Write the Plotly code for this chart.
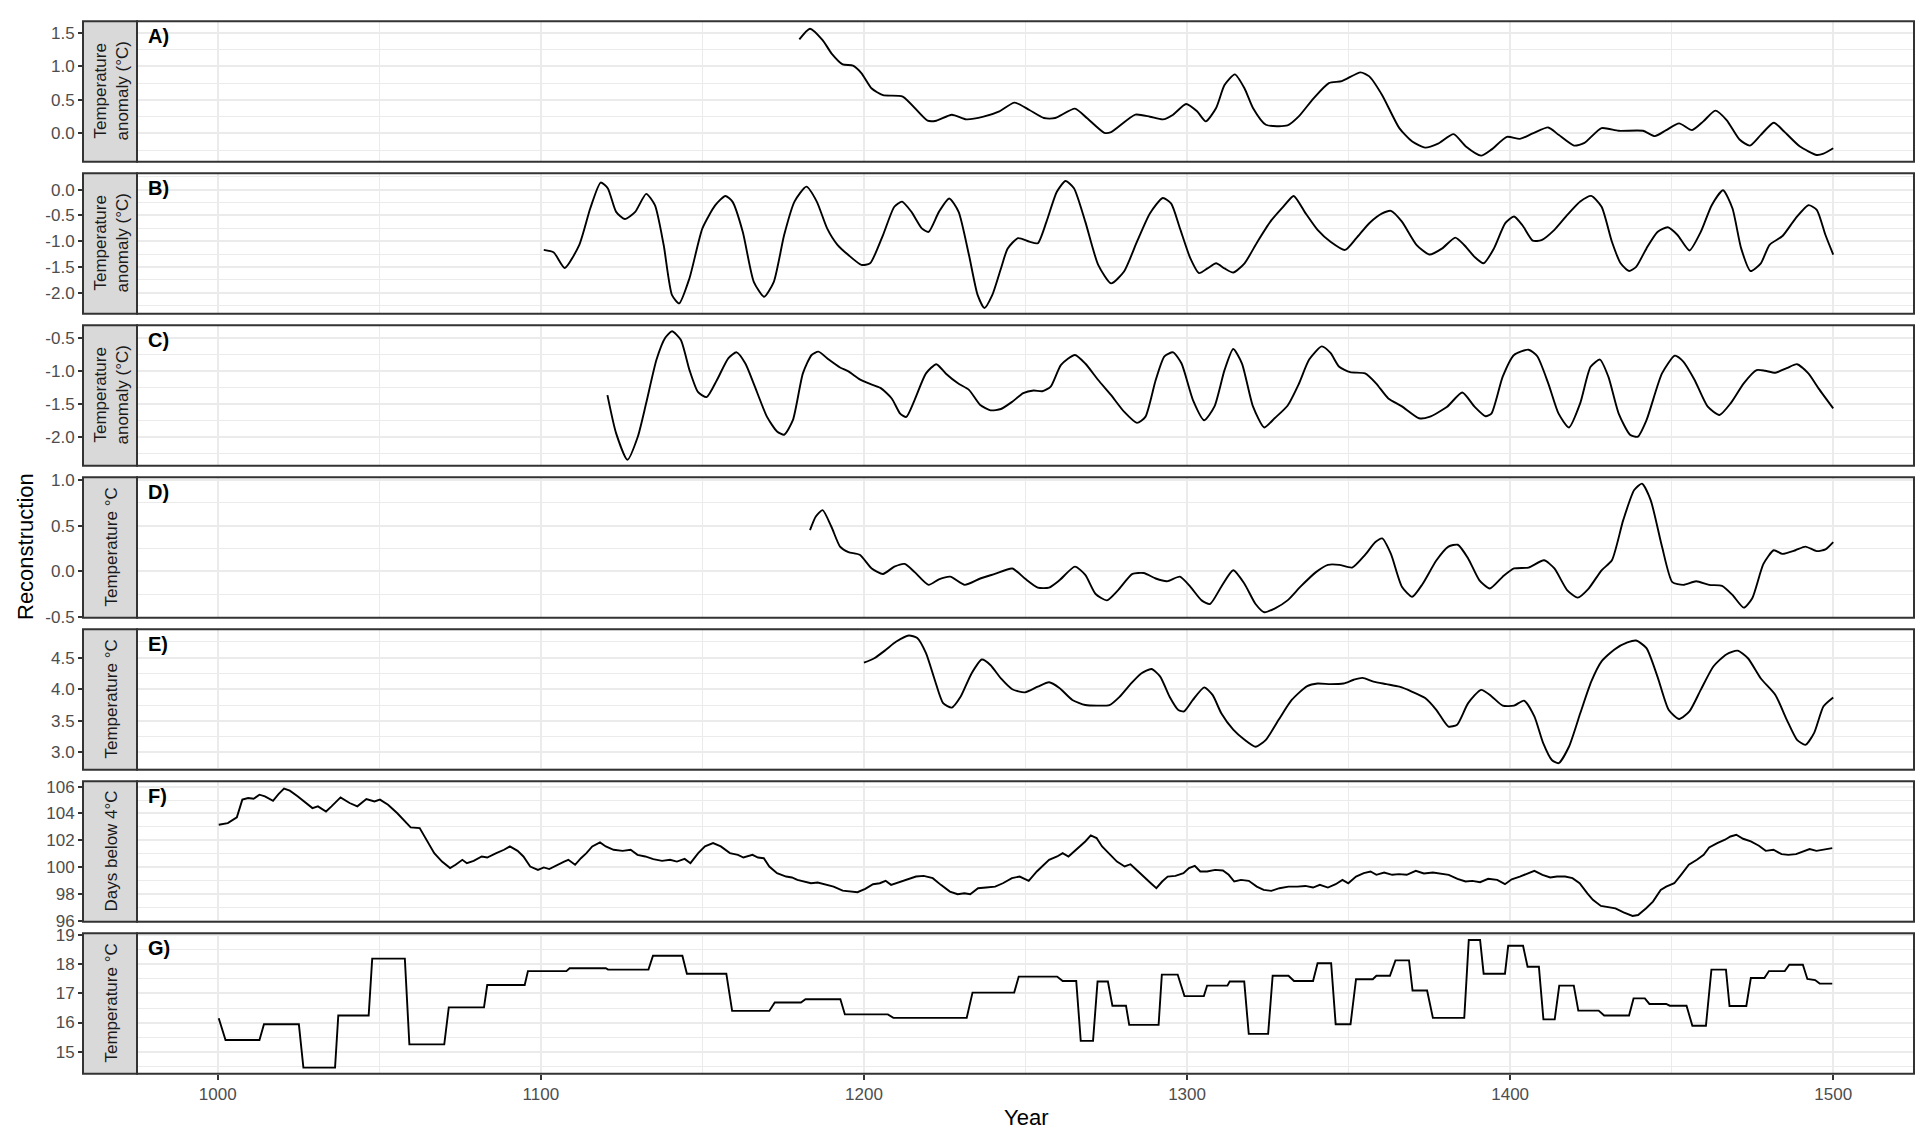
import plotly.graph_objects as go

# ---- data (year, value) ----
a_year = [1180, 1183.3, 1187.2, 1190, 1193.4, 1196.6, 1199.2, 1202.4, 1205.9, 1212, 1219.7, 1222.4, 1227.2, 1231.7,
          1237, 1241.9, 1246.6, 1251.2, 1255.7, 1259.2, 1265.3, 1269, 1274.4, 1276.5, 1284, 1288.5, 1292.5, 1295.7,
          1299.7, 1303.1, 1305.8, 1309, 1311.6, 1314.8, 1317.8, 1320.4, 1324.4, 1331.1, 1334.5, 1339.1, 1343.9,
          1347.9, 1353.7, 1356.4, 1360.4, 1365.7, 1369.7, 1373.7, 1377.7, 1382.5, 1386.2, 1391, 1394.2, 1399, 1403,
          1407, 1411.8, 1415, 1419.8, 1423, 1428.3, 1433.6, 1441.1, 1444.8, 1448.3, 1452.3, 1456.3, 1459.8, 1463.5,
          1467, 1471, 1474.2, 1477.6, 1481.6, 1484.8, 1489.6, 1494.9, 1497, 1500]
a_val = [1.40, 1.56, 1.39, 1.19, 1.03, 1.01, 0.90, 0.67, 0.57, 0.55, 0.19, 0.19, 0.28, 0.21,
         0.25, 0.33, 0.46, 0.35, 0.23, 0.23, 0.37, 0.23, 0.01, 0.02, 0.28, 0.25, 0.21, 0.28,
         0.44, 0.33, 0.18, 0.38, 0.72, 0.88, 0.67, 0.38, 0.13, 0.12, 0.25, 0.52, 0.75,
         0.78, 0.91, 0.85, 0.57, 0.08, -0.12, -0.21, -0.15, -0.01, -0.19, -0.33, -0.24, -0.05, -0.08,
         0.00, 0.09, -0.02, -0.18, -0.14, 0.08, 0.04, 0.04, -0.04, 0.05, 0.15, 0.05, 0.18, 0.34,
         0.20, -0.09, -0.18, -0.02, 0.16, 0.03, -0.19, -0.32, -0.30, -0.22]

b_year = [1100.9, 1104, 1107.4, 1111.9, 1115.3, 1118.5, 1120.7, 1123.3, 1126, 1129.2, 1132.6, 1135.3, 1138,
          1140.6, 1142.8, 1146, 1150, 1154, 1157.1, 1159.3, 1162.5, 1165.9, 1169.1, 1172.1, 1175.3, 1178.5,
          1182.2, 1185.4, 1188.6, 1191.8, 1195.2, 1199.2, 1201.9, 1205.9, 1209.4, 1211.8, 1214.7, 1217.9, 1220,
          1223.2, 1226.4, 1229.3, 1232.5, 1235.2, 1237.3, 1239.7, 1242.4, 1244.5, 1247.7, 1251.2, 1253.8,
          1256.5, 1259.7, 1262.4, 1265, 1268.5, 1272.5, 1276.5, 1280.5, 1284.5, 1288.5, 1292.5, 1295.1, 1297.8,
          1301, 1303.7, 1306.3, 1309, 1311.6, 1314.3, 1317.8, 1321.8, 1325.8, 1329.8, 1333, 1336.4, 1340.4,
          1344.4, 1348.9, 1352.4, 1356.4, 1360.4, 1363.1, 1366.5, 1371, 1375, 1379, 1383, 1385.7, 1388.9,
          1391.8, 1395, 1398.5, 1401.2, 1403.8, 1407, 1409.7, 1413.7, 1417.7, 1421.7, 1425.1, 1428.3, 1431.5,
          1434.2, 1436.8, 1439, 1442.2, 1445.6, 1448.8, 1451.8, 1455.5, 1459, 1462.4, 1465.9, 1468.8, 1471.5,
          1474.4, 1477.6, 1480.3, 1484.3, 1488.3, 1492.3, 1494.9, 1497.6, 1500]
b_val = [-1.17, -1.22, -1.52, -1.07, -0.36, 0.14, 0.03, -0.43, -0.57, -0.43, -0.08, -0.30, -1.07,
         -2.05, -2.21, -1.72, -0.75, -0.30, -0.12, -0.23, -0.82, -1.79, -2.08, -1.79, -0.88, -0.23,
         0.06, -0.23, -0.75, -1.07, -1.27, -1.46, -1.43, -0.88, -0.33, -0.23, -0.43, -0.75, -0.82,
         -0.43, -0.17, -0.43, -1.27, -2.05, -2.30, -2.05, -1.53, -1.14, -0.94, -1.01, -1.04,
         -0.62, -0.04, 0.17, 0.03, -0.62, -1.46, -1.82, -1.59, -1.01, -0.46, -0.16, -0.27, -0.75,
         -1.33, -1.62, -1.53, -1.43, -1.53, -1.61, -1.43, -1.01, -0.62, -0.33, -0.12, -0.43, -0.78,
         -1.01, -1.17, -0.94, -0.65, -0.46, -0.41, -0.62, -1.07, -1.26, -1.14, -0.93, -1.07, -1.30,
         -1.43, -1.14, -0.65, -0.52, -0.69, -0.99, -0.98, -0.78, -0.49, -0.23, -0.12, -0.33, -1.01,
         -1.43, -1.58, -1.50, -1.14, -0.82, -0.73, -0.88, -1.18, -0.82, -0.30, -0.01, -0.36, -1.14,
         -1.58, -1.43, -1.07, -0.90, -0.56, -0.30, -0.39, -0.88, -1.26]

c_year = [1120.6, 1123.3, 1126.8, 1130, 1132.6, 1135.8, 1138.5, 1140.6, 1143.3, 1146, 1148.6, 1151.3, 1154.5,
          1158, 1160.6, 1163.3, 1166, 1170, 1173.1, 1175.3, 1178, 1181.1, 1183.8, 1185.9, 1189.1, 1192.6,
          1195.2, 1198.7, 1201.9, 1205.1, 1208.6, 1211.2, 1213.1, 1215.7, 1219.2, 1222.4, 1225.3, 1229.1,
          1232.5, 1236, 1239.2, 1242.4, 1245.9, 1249.3, 1252.5, 1255.2, 1257.8, 1261, 1265.3, 1268.5, 1272.5,
          1276.5, 1280.5, 1284.5, 1287.1, 1290.3, 1293, 1295.7, 1298.3, 1301.8, 1305.3, 1308.5, 1311.6,
          1314.3, 1317, 1320.4, 1323.9, 1327.1, 1331.1, 1334.5, 1337.8, 1341.7, 1344.4, 1347.1, 1350.5,
          1355.1, 1358.5, 1362.3, 1366.5, 1371.8, 1375, 1380.4, 1385.2, 1388.9, 1392.4, 1394.2, 1397.7,
          1401.2, 1405.7, 1408.4, 1411.8, 1415, 1418.2, 1421.7, 1424.9, 1427.8, 1430.4, 1433.6, 1437.1,
          1439.5, 1442.2, 1447, 1451, 1453.6, 1457.1, 1461.1, 1464.8, 1468.3, 1472.3, 1476.3, 1478.9,
          1482.1, 1485.6, 1488.8, 1492.3, 1495.5, 1500]
c_val = [-1.37, -1.95, -2.35, -2.00, -1.49, -0.83, -0.50, -0.40, -0.53, -0.99, -1.32, -1.40, -1.14,
         -0.81, -0.72, -0.89, -1.21, -1.70, -1.92, -1.97, -1.75, -1.04, -0.76, -0.71, -0.83, -0.95,
         -1.01, -1.13, -1.20, -1.26, -1.42, -1.65, -1.70, -1.44, -1.04, -0.90, -1.04, -1.19,
         -1.29, -1.52, -1.60, -1.58, -1.47, -1.34, -1.30, -1.31, -1.24, -0.91, -0.76, -0.89, -1.14,
         -1.37, -1.62, -1.79, -1.70, -1.14, -0.78, -0.72, -0.89, -1.44, -1.75, -1.54, -0.99,
         -0.67, -0.89, -1.54, -1.86, -1.72, -1.53, -1.21, -0.83, -0.63, -0.73, -0.94, -1.02,
         -1.04, -1.19, -1.42, -1.54, -1.72, -1.70, -1.55, -1.33, -1.54, -1.69, -1.65, -1.09,
         -0.76, -0.68, -0.78, -1.19, -1.65, -1.86, -1.49, -0.94, -0.83, -1.09, -1.65, -1.97,
         -2.00, -1.75, -1.04, -0.77, -0.86, -1.14, -1.54, -1.67, -1.49, -1.19, -0.99, -1.00,
         -1.03, -0.96, -0.90, -1.04, -1.27, -1.57]

d_year = [1183.3, 1185.1, 1187.2, 1189.9, 1192.6, 1195.2, 1198.7, 1202.4, 1205.9, 1209.4, 1212.6, 1215.7,
          1220, 1223.2, 1226.7, 1231.2, 1236, 1240.5, 1245.9, 1249.8, 1253.8, 1257.3, 1260.5, 1265.3, 1268.5,
          1271.7, 1275.2, 1278.6, 1283.1, 1286.6, 1290.3, 1293.8, 1297.8, 1301, 1304.5, 1307.1, 1310.6,
          1314.3, 1317.8, 1321.2, 1323.9, 1327.1, 1331.1, 1335.1, 1339.9, 1343.6, 1347.1, 1351.1, 1355.1,
          1358.3, 1360.4, 1363.1, 1366.5, 1369.7, 1372.9, 1377.2, 1380.9, 1383.8, 1387, 1390.5, 1393.7,
          1397.7, 1401.2, 1405.7, 1410.5, 1413.7, 1417.7, 1420.9, 1424.3, 1428.3, 1431.5, 1435, 1438.4,
          1440.8, 1443.5, 1447, 1450.2, 1453.6, 1457.6, 1461.6, 1465.6, 1468.8, 1472.3, 1474.9, 1478.4,
          1481.6, 1484.3, 1488.3, 1491.4, 1494.9, 1497.6, 1500]
d_val = [0.45, 0.60, 0.67, 0.49, 0.27, 0.21, 0.18, 0.03, -0.03, 0.05, 0.08, -0.01,
         -0.15, -0.09, -0.06, -0.15, -0.08, -0.03, 0.03, -0.08, -0.18, -0.18, -0.10, 0.05, -0.04,
         -0.25, -0.32, -0.21, -0.03, -0.02, -0.08, -0.11, -0.06, -0.17, -0.32, -0.36, -0.17,
         0.01, -0.14, -0.36, -0.45, -0.41, -0.32, -0.17, -0.01, 0.07, 0.07, 0.04, 0.18,
         0.32, 0.36, 0.19, -0.17, -0.28, -0.14, 0.12, 0.27, 0.29, 0.14, -0.10, -0.19,
         -0.06, 0.03, 0.04, 0.12, 0.03, -0.21, -0.29, -0.19, 0.01, 0.12, 0.56, 0.89,
         0.96, 0.78, 0.27, -0.12, -0.15, -0.11, -0.15, -0.16, -0.26, -0.40, -0.30, 0.08,
         0.23, 0.19, 0.23, 0.27, 0.22, 0.24, 0.32]

e_year = [1200, 1203.2, 1206.7, 1209.9, 1213.9, 1216.5, 1219.2, 1221.9, 1224.5, 1227.2, 1229.9, 1233.3,
          1236.5, 1239.2, 1242.4, 1245.9, 1249.8, 1253.8, 1257.3, 1260.5, 1264.5, 1268.5, 1272.5, 1276,
          1279.1, 1282.3, 1285.8, 1289, 1291.7, 1294.6, 1297.3, 1299.1, 1301.8, 1305.3, 1307.9, 1310.6,
          1314.3, 1317.8, 1321.2, 1324.4, 1328.4, 1332.4, 1337.2, 1340.4, 1344.4, 1348.4, 1351.6, 1354.3,
          1357.7, 1361.7, 1365.7, 1369.7, 1373.7, 1377.2, 1380.9, 1383.6, 1387, 1391, 1394.2, 1397.7,
          1401.2, 1404.3, 1407.5, 1410.2, 1412.9, 1415, 1418.2, 1421.7, 1425.1, 1428.3, 1432.3, 1436.3,
          1439, 1442.2, 1445.6, 1449.1, 1452.3, 1455.5, 1459, 1462.9, 1466.9, 1470.4, 1473.6, 1477.6,
          1482.1, 1485.6, 1488.8, 1491.4, 1494.1, 1497, 1500]
e_val = [4.42, 4.49, 4.62, 4.75, 4.85, 4.81, 4.57, 4.15, 3.78, 3.71, 3.88, 4.25,
         4.47, 4.38, 4.17, 4.00, 3.95, 4.04, 4.11, 4.02, 3.83, 3.75, 3.74, 3.75,
         3.88, 4.07, 4.25, 4.32, 4.20, 3.88, 3.67, 3.65, 3.83, 4.03, 3.91, 3.62,
         3.36, 3.20, 3.09, 3.20, 3.52, 3.83, 4.05, 4.09, 4.08, 4.09, 4.15, 4.18,
         4.12, 4.08, 4.04, 3.96, 3.86, 3.67, 3.41, 3.44, 3.78, 3.99, 3.89, 3.74,
         3.74, 3.82, 3.57, 3.15, 2.88, 2.83, 3.09, 3.62, 4.12, 4.44, 4.63, 4.74,
         4.77, 4.65, 4.20, 3.67, 3.53, 3.65, 3.99, 4.36, 4.55, 4.61, 4.49, 4.17,
         3.91, 3.52, 3.20, 3.12, 3.31, 3.73, 3.87]

f_year = [1000.3, 1003.1, 1005.9, 1007.6, 1009.4, 1011.1, 1012.9, 1014.6, 1017.1, 1018.8, 1020.5, 1022.3,
          1024.7, 1027.5, 1029.3, 1031, 1033.5, 1035.2, 1038, 1040.8, 1043.2, 1046, 1048.5, 1050.2, 1052.7,
          1055.5, 1057.9, 1059.7, 1062.5, 1064.9, 1067, 1069.4, 1071.9, 1073.6, 1075.7, 1077.1, 1079.2,
          1081.7, 1083.4, 1086.2, 1088.6, 1090.4, 1092.8, 1094.6, 1096.7, 1099.1, 1100.9, 1102.6, 1105.1,
          1107.2, 1108.5, 1110.6, 1112.4, 1114.1, 1115.9, 1118.3, 1120.1, 1122.5, 1125.3, 1127.8, 1129.9,
          1132.3, 1134.8, 1137.5, 1140, 1142.1, 1144.5, 1146.3, 1148.7, 1150.8, 1153.3, 1155.7, 1158.5,
          1161, 1162.7, 1165.5, 1167.2, 1169, 1170.7, 1173.1, 1175.9, 1177.7, 1179.4, 1181.9, 1183.6,
          1185.7, 1188.2, 1190.6, 1193.4, 1195.9, 1198, 1200.4, 1202.8, 1204.9, 1206.7, 1208.4, 1210.9,
          1213.7, 1216.1, 1218.5, 1221.3, 1223.8, 1226.6, 1229, 1231.1, 1232.9, 1235.3, 1237.8, 1240.6,
          1243, 1245.8, 1248.2, 1251, 1253.5, 1255.6, 1257.3, 1259.8, 1261.5, 1263.3, 1265, 1266.7, 1268.5,
          1270.2, 1272, 1273.7, 1276.2, 1278.3, 1280.7, 1282.5, 1284.9, 1287, 1288.8, 1290.5, 1292.3, 1294,
          1296.4, 1298.9, 1300.6, 1302.4, 1304.1, 1306.2, 1308.7, 1311.1, 1312.9, 1314.6, 1316.7, 1319.1,
          1321.6, 1323.7, 1326.1, 1328.6, 1331.4, 1334.1, 1336.6, 1339, 1341.1, 1343.6, 1346, 1348.1,
          1349.9, 1352.3, 1354.7, 1356.8, 1358.6, 1361, 1363.5, 1365.6, 1368, 1370.8, 1373.3, 1376.1,
          1378.5, 1381, 1383.7, 1386.2, 1388.3, 1390.7, 1393.2, 1396, 1398.4, 1400.5, 1403, 1405.4, 1407.5,
          1410, 1412.4, 1414.5, 1417, 1419.3, 1421.5, 1423.9, 1425.6, 1428.1, 1430.2, 1432.6, 1435.1,
          1437.9, 1439.6, 1442.1, 1444.2, 1446.6, 1448.3, 1450.8, 1452.9, 1455.3, 1457.8, 1459.9, 1461.6,
          1464.1, 1466.5, 1468.2, 1470, 1472.1, 1474.5, 1477, 1479.1, 1481.5, 1484, 1486.1, 1488.5, 1490.3,
          1492.7, 1494.8, 1497.2, 1499.7]
f_val = [103.16, 103.28, 103.71, 105.03, 105.15, 105.10, 105.40, 105.28, 104.95, 105.45, 105.85, 105.70,
         105.28, 104.78, 104.40, 104.53, 104.15, 104.53, 105.20, 104.78, 104.53, 105.08, 104.90, 105.03, 104.65,
         104.03, 103.41, 102.96, 102.91, 101.91, 101.04, 100.41, 99.92, 100.17, 100.54, 100.29, 100.46,
         100.79, 100.71, 101.04, 101.29, 101.54, 101.21, 100.79, 100.04, 99.79, 99.97, 99.85, 100.17,
         100.41, 100.54, 100.17, 100.66, 101.04, 101.54, 101.84, 101.54, 101.29, 101.21, 101.29, 100.91,
         100.79, 100.59, 100.46, 100.54, 100.41, 100.61, 100.29, 101.04, 101.54, 101.79, 101.54, 101.04,
         100.91, 100.71, 100.91, 100.71, 100.66, 100.04, 99.54, 99.29, 99.22, 99.04, 98.92, 98.79,
         98.84, 98.67, 98.54, 98.24, 98.17, 98.12, 98.37, 98.72, 98.79, 98.97, 98.67, 98.87,
         99.04, 99.29, 99.34, 99.17, 98.67, 98.17, 97.97, 98.04, 97.97, 98.42, 98.47, 98.54,
         98.79, 99.17, 99.29, 98.97, 99.67, 100.17, 100.54, 100.79, 101.04, 100.79, 101.16, 101.54, 101.91,
         102.36, 102.16, 101.54, 100.91, 100.41, 100.04, 100.21, 99.67, 99.17, 98.79, 98.42, 98.92, 99.29,
         99.34, 99.54, 99.92, 100.09, 99.67, 99.67, 99.79, 99.74, 99.42, 98.92, 99.04, 98.97,
         98.54, 98.29, 98.22, 98.42, 98.54, 98.54, 98.59, 98.47, 98.67, 98.47, 98.72, 99.04,
         98.79, 99.29, 99.54, 99.67, 99.42, 99.59, 99.42, 99.47, 99.42, 99.72, 99.52, 99.59,
         99.52, 99.42, 99.12, 98.92, 98.97, 98.87, 99.12, 99.04, 98.72, 99.09, 99.29, 99.54, 99.72,
         99.42, 99.22, 99.29, 99.29, 99.17, 98.79, 98.04, 97.55, 97.10, 97.00, 96.92, 96.62,
         96.35, 96.42, 96.92, 97.42, 98.29, 98.54, 98.79, 99.42, 100.17, 100.54, 100.91, 101.46,
         101.79, 102.04, 102.28, 102.41, 102.11, 101.91, 101.59, 101.21, 101.29, 100.96, 100.91, 100.96, 101.11,
         101.34, 101.21, 101.29, 101.41]

g_year = [1000.3, 1002.4, 1012.9, 1014.3, 1025.1, 1026.5, 1036.3, 1037.3, 1046.7, 1047.8, 1057.9, 1059.3,
          1070.1, 1071.5, 1082.4, 1083.4, 1095, 1096, 1107.9, 1108.9, 1120.1, 1120.8, 1133.3, 1134.7, 1143.8,
          1145.2, 1157.4, 1159.2, 1170.7, 1172.4, 1180.5, 1181.9, 1192.7, 1194.1, 1207.4, 1209.1, 1231.8,
          1233.6, 1246.5, 1247.9, 1259.8, 1261.5, 1265.7, 1267.1, 1270.9, 1272.3, 1275.5, 1276.9, 1281.1,
          1282.1, 1291.2, 1292.2, 1297.1, 1299.2, 1305.2, 1306.2, 1312.5, 1313.2, 1317.7, 1319.1, 1325.1,
          1326.5, 1331.4, 1333.1, 1339, 1340.4, 1344.6, 1346, 1350.6, 1352.3, 1357.5, 1358.6, 1362.8, 1364.5,
          1368.7, 1369.8, 1374.3, 1376.1, 1385.8, 1387.2, 1390.7, 1391.8, 1398.4, 1399.4, 1404, 1405.4,
          1408.9, 1410.3, 1413.8, 1415.2, 1419.7, 1421.1, 1427.4, 1429.1, 1436.8, 1438.2, 1441.7, 1443.1,
          1448.3, 1449.4, 1454.6, 1456.4, 1460.6, 1462.3, 1466.8, 1467.9, 1473.1, 1474.5, 1478.7, 1480.1,
          1485, 1486.4, 1490.6, 1492, 1494.4, 1495.8, 1499.7]
g_val = [16.15, 15.40, 15.40, 15.94, 15.94, 14.45, 14.45, 16.24, 16.24, 18.20, 18.20, 15.25,
         15.25, 16.52, 16.52, 17.29, 17.29, 17.77, 17.77, 17.87, 17.87, 17.82, 17.82, 18.30, 18.30,
         17.68, 17.68, 16.40, 16.40, 16.69, 16.69, 16.80, 16.80, 16.28, 16.28, 16.16, 16.16,
         17.03, 17.03, 17.58, 17.58, 17.43, 17.43, 15.37, 15.37, 17.41, 17.41, 16.58, 16.58,
         15.92, 15.92, 17.65, 17.65, 16.91, 16.91, 17.27, 17.27, 17.41, 17.41, 15.61, 15.61,
         17.61, 17.61, 17.43, 17.43, 18.04, 18.04, 15.94, 15.94, 17.49, 17.49, 17.61, 17.61, 18.14,
         18.14, 17.10, 17.10, 16.16, 16.16, 18.84, 18.84, 17.68, 17.68, 18.64, 18.64, 17.92,
         17.92, 16.11, 16.11, 17.27, 17.27, 16.41, 16.41, 16.24, 16.24, 16.83, 16.83, 16.64,
         16.64, 16.58, 16.58, 15.89, 15.89, 17.82, 17.82, 16.57, 16.57, 17.53, 17.53, 17.77,
         17.77, 17.99, 17.99, 17.50, 17.46, 17.34, 17.34]

panel_tags = ["A)", "B)", "C)", "D)", "E)", "F)", "G)"]
strip_labels = ["Temperature<br>anomaly (°C)", "Temperature<br>anomaly (°C)", "Temperature<br>anomaly (°C)",
                "Temperature °C", "Temperature °C", "Days below 4°C", "Temperature °C"]
y_ranges = [[-0.42, 1.67], [-2.41, 0.32], [-2.44, -0.31], [-0.51, 1.03], [2.727, 4.948], [95.92, 106.4], [14.24, 19.07]]
y_ticks = [[0.0, 0.5, 1.0, 1.5], [-2.0, -1.5, -1.0, -0.5, 0.0], [-2.0, -1.5, -1.0, -0.5], [-0.5, 0.0, 0.5, 1.0],
           [3.0, 3.5, 4.0, 4.5], [96, 98, 100, 102, 104, 106], [15, 16, 17, 18, 19]]
y_ticktext = [["0.0", "0.5", "1.0", "1.5"], ["-2.0", "-1.5", "-1.0", "-0.5", "0.0"], ["-2.0", "-1.5", "-1.0", "-0.5"],
              ["-0.5", "0.0", "0.5", "1.0"], ["3.0", "3.5", "4.0", "4.5"], ["96", "98", "100", "102", "104", "106"],
              ["15", "16", "17", "18", "19"]]
y_minor = [0.25, 0.25, 0.25, 0.25, 0.25, 1, 0.5]
x_ticks = [1000, 1100, 1200, 1300, 1400, 1500]

series = [(a_year, a_val, 'spline'), (b_year, b_val, 'spline'), (c_year, c_val, 'spline'),
          (d_year, d_val, 'spline'), (e_year, e_val, 'spline'), (f_year, f_val, 'linear'),
          (g_year, g_val, 'linear')]

# ---- geometry (page pixels); the page body adds an 8px margin ----
OFF = 8
W, H = 1932 - 2 * OFF, 1148 - 2 * OFF
PX0, PX1 = 137, 1914
STRIP_X0 = 83
TOP0, STEP, PH = 21.3, 152, 140.4


def px(x):
    return (x - OFF) / W


def py(y):
    return 1 - (y - OFF) / H


FONT = "Arial, Liberation Sans, sans-serif"
GRID = '#EBEBEB'
DARK = '#333333'

fig = go.Figure()
layout = dict(
    width=W, height=H,
    margin=dict(l=0, r=0, t=0, b=0, autoexpand=False),
    paper_bgcolor='white', plot_bgcolor='white',
    showlegend=False,
    font=dict(family=FONT, size=17, color='#4D4D4D'),
)
shapes, annotations = [], []

for i, (xs, ys, shp) in enumerate(series):
    n = '' if i == 0 else str(i + 1)
    top = TOP0 + STEP * i
    bot = top + PH
    ydom = [py(bot), py(top)]
    last = i == 6
    fig.add_trace(go.Scatter(
        x=xs, y=ys, mode='lines', xaxis='x' + n, yaxis='y' + n,
        line=dict(color='black', width=1.9, shape=shp, smoothing=0.6 if shp == 'spline' else None),
        hoverinfo='skip'
    ))
    layout['xaxis' + n] = dict(
        domain=[px(PX0), px(PX1)], anchor='y' + n, range=[975, 1525], automargin=False,
        tickvals=x_ticks, showticklabels=last, ticks='outside' if last else '',
        ticklen=5, tickwidth=1.5, tickcolor=DARK,
        showgrid=True, gridcolor=GRID, gridwidth=2, zeroline=False, showline=False,
        minor=dict(dtick=50, tick0=1000, showgrid=True, gridcolor=GRID, gridwidth=1),
        tickfont=dict(size=17, color='#4D4D4D'),
    )
    layout['yaxis' + n] = dict(
        domain=ydom, anchor='free', position=px(STRIP_X0), range=y_ranges[i], automargin=False,
        tickvals=y_ticks[i], ticktext=y_ticktext[i], ticks='outside', ticklen=5, tickwidth=1.5,
        tickcolor=DARK, showgrid=True, gridcolor=GRID, gridwidth=2, zeroline=False, showline=False,
        minor=dict(dtick=y_minor[i], tick0=0, showgrid=True, gridcolor=GRID, gridwidth=1),
        tickfont=dict(size=17, color='#4D4D4D'),
    )
    # panel border
    shapes.append(dict(type='rect', xref='paper', yref='paper', x0=px(PX0), x1=px(PX1),
                       y0=ydom[0], y1=ydom[1], line=dict(color=DARK, width=2), layer='above'))
    # strip on the left
    shapes.append(dict(type='rect', xref='paper', yref='paper', x0=px(STRIP_X0), x1=px(PX0),
                       y0=ydom[0], y1=ydom[1], fillcolor='#D9D9D9', line=dict(color=DARK, width=2),
                       layer='above'))
    annotations.append(dict(text=strip_labels[i], xref='paper', yref='paper', x=px(111),
                            y=(ydom[0] + ydom[1]) / 2, xanchor='center', yanchor='middle',
                            showarrow=False, textangle=-90,
                            font=dict(family=FONT, size=17, color='#1A1A1A')))
    annotations.append(dict(text='<b>' + panel_tags[i] + '</b>', xref='paper', yref='paper',
                            x=px(146), y=py(top + 2), xanchor='left', yanchor='top',
                            showarrow=False, font=dict(family=FONT, size=20, color='black')))

annotations.append(dict(text='Year', xref='paper', yref='paper', x=px((PX0 + PX1) / 2), y=py(1117),
                        xanchor='center', yanchor='middle',
                        showarrow=False, font=dict(family=FONT, size=22, color='black')))
annotations.append(dict(text='Reconstruction', xref='paper', yref='paper', x=px(25), y=py(547),
                        xanchor='center', yanchor='middle',
                        showarrow=False, textangle=-90, font=dict(family=FONT, size=22, color='black')))

layout['shapes'] = shapes
layout['annotations'] = annotations
fig.update_layout(layout)

fig.write_html("out.html")
